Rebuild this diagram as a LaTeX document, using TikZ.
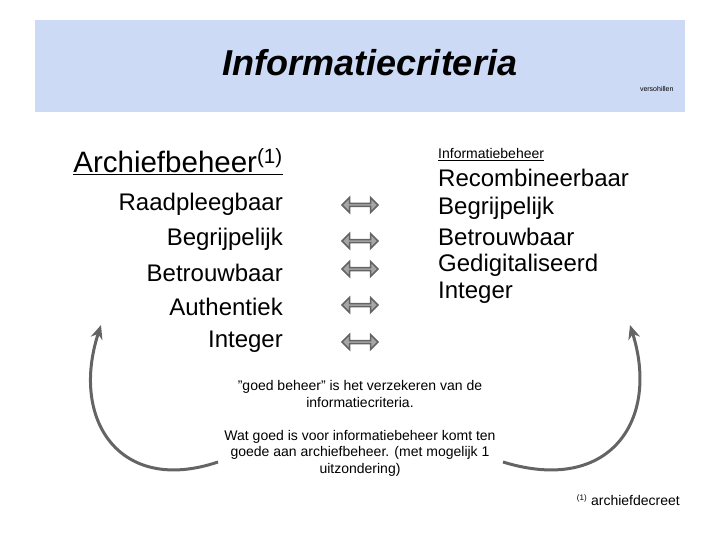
\documentclass[tikz,border=0pt]{standalone}
\usepackage{fontspec}
\setmainfont{Liberation Sans}
\usetikzlibrary{shapes.arrows,arrows.meta}
\definecolor{hdr}{RGB}{204,218,245}
\definecolor{arr}{RGB}{100,100,100}
\tikzset{
 dbl/.style={double arrow,draw=arr,fill=gray!70,line width=1.5pt,minimum width=15pt,minimum height=36pt,double arrow head extend=3pt,double arrow head indent=0pt,inner sep=0pt},
 big/.style={font=\fontsize{24}{28}\selectfont,inner sep=0pt},
 mid/.style={font=\fontsize{14}{16.5}\selectfont,align=center,inner sep=0pt},
 curve/.style={draw=arr,line width=3pt,-{Stealth[length=14pt,width=12pt]}}
}
\begin{document}
\begin{tikzpicture}[x=1pt,y=-1pt]
\useasboundingbox (0,0) rectangle (720,540);
\fill[hdr] (35,20) rectangle (685,112);
\node[font=\fontsize{36}{40}\selectfont\bfseries\itshape] (t) at (370,63) {Informatiecriteria};
\node[font=\fontsize{7}{8}\selectfont,anchor=east] (v) at (677,89) {versohillen};
\node[font=\fontsize{29.5}{32}\selectfont,inner sep=0pt,anchor=base east] (ah) at (283,173) {\underline{Archiefbeheer\textsuperscript{(1)}}};
\node[big,anchor=east] (a1) at (283,204) {Raadpleegbaar};
\node[big,anchor=east] (a2) at (283,239) {Begrijpelijk};
\node[big,anchor=east] (a3) at (283,273) {Betrouwbaar};
\node[big,anchor=east] (a4) at (283,307) {Authentiek};
\node[big,anchor=east] (a5) at (283,342) {Integer};
\node[dbl] (d1) at (360,205) {};
\node[dbl] (d2) at (360,241) {};
\node[dbl] (d3) at (360,269) {};
\node[dbl] (d4) at (360,305) {};
\node[dbl] (d5) at (360,342) {};
\node[font=\fontsize{14}{16}\selectfont,anchor=base west,inner sep=0pt] (ih) at (438,159) {\underline{Informatiebeheer}};
\node[big,anchor=west] (b1) at (438,178) {Recombineerbaar};
\node[big,anchor=west] (b2) at (438,208) {Begrijpelijk};
\node[big,anchor=west] (b3) at (438,237) {Betrouwbaar};
\node[big,anchor=west] (b4) at (438,265) {Gedigitaliseerd};
\node[big,anchor=west] (b5) at (438,293) {Integer};
\node[mid] (m1) at (360,394) {\symbol{34}goed beheer\symbol{34} is het verzekeren van de\\informatiecriteria.};
\node[mid] (m2) at (360,453) {Wat goed is voor informatiebeheer komt ten\\goede aan archiefbeheer. (met mogelijk 1\\uitzondering)};
\node[font=\fontsize{14}{17}\selectfont,anchor=east,inner sep=0pt] (f) at (680,500) {\textsuperscript{\footnotesize(1)} archiefdecreet};
\coordinate (ls) at (218,462);
\coordinate (le) at (101,325);
\coordinate (rs) at (503,462);
\coordinate (re) at (630,325);
\draw[curve] (ls) .. controls (120,495) and (70,420) .. (le);
\draw[curve] (rs) .. controls (610,495) and (660,420) .. (re);
\end{tikzpicture}
\end{document}
